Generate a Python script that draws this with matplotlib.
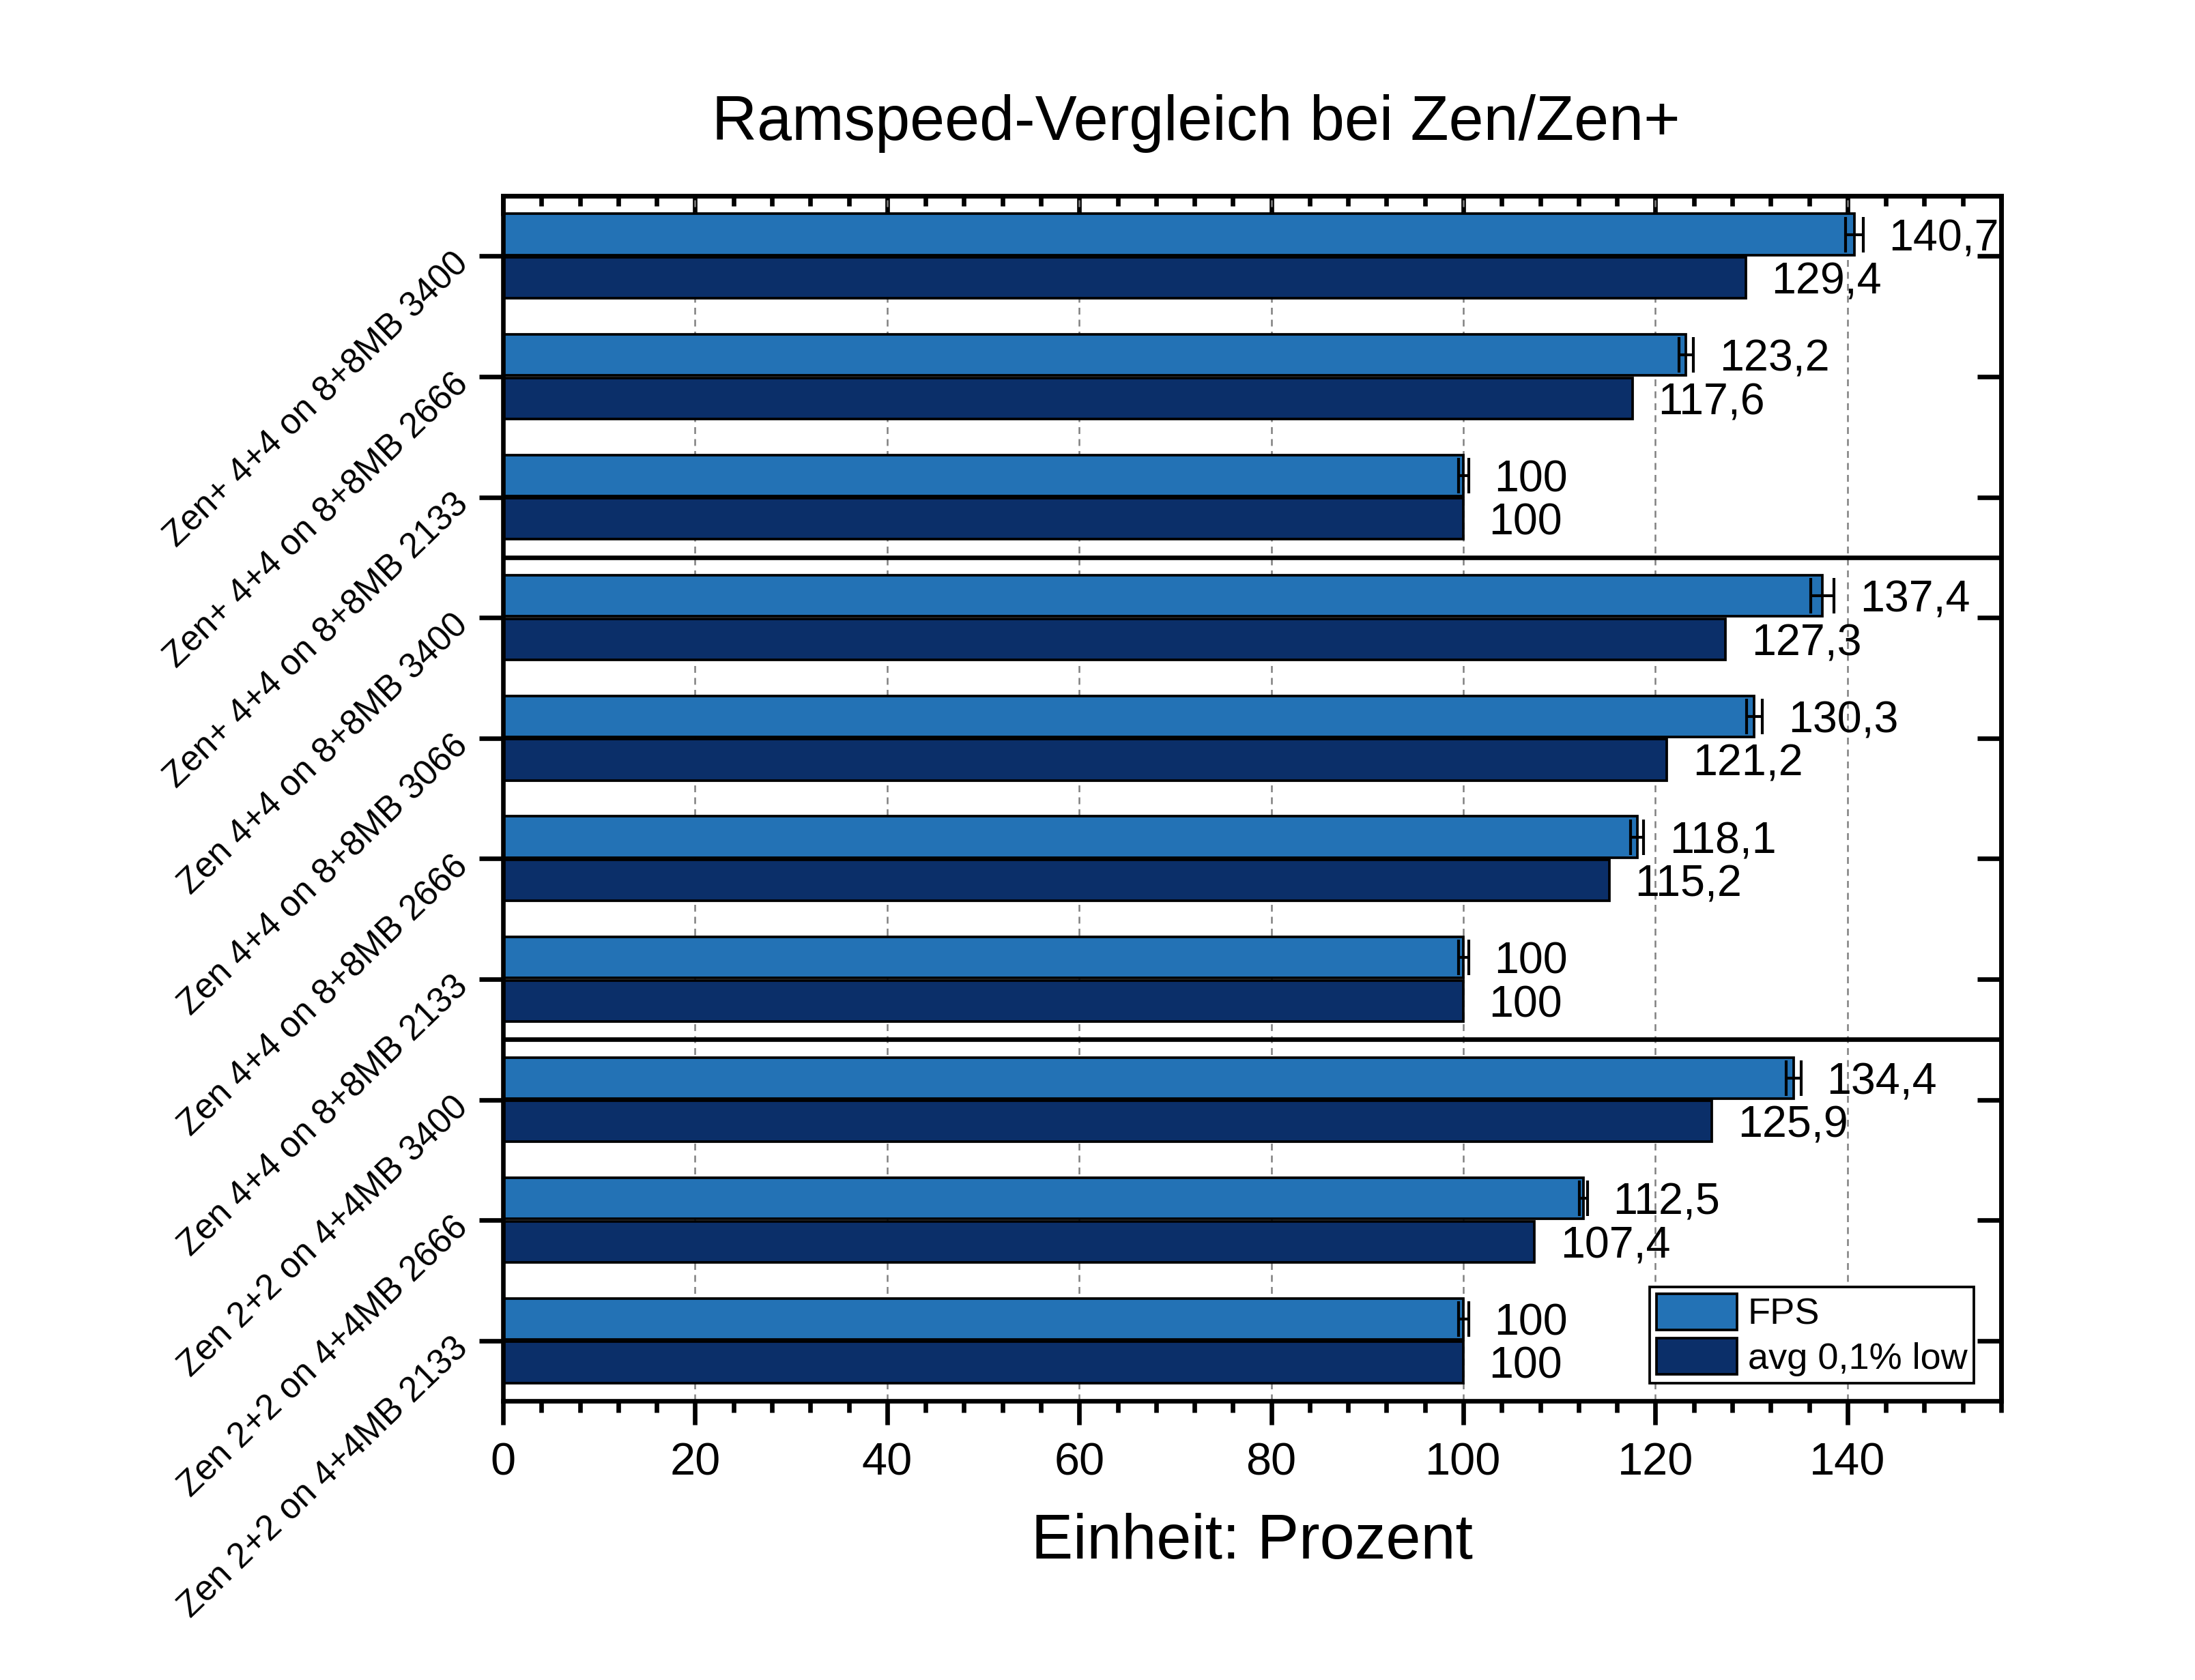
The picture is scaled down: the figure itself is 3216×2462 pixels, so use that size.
import numpy as np
import matplotlib
matplotlib.use("Agg")
from matplotlib import pyplot as plt
from matplotlib.ticker import MultipleLocator

plt.rcParams['font.family'] = ['Liberation Sans', 'DejaVu Sans']

categories = ["Zen+ 4+4 on 8+8MB 3400", "Zen+ 4+4 on 8+8MB 2666", "Zen+ 4+4 on 8+8MB 2133",
              "Zen 4+4 on 8+8MB 3400", "Zen 4+4 on 8+8MB 3066", "Zen 4+4 on 8+8MB 2666",
              "Zen 4+4 on 8+8MB 2133", "Zen 2+2 on 4+4MB 3400", "Zen 2+2 on 4+4MB 2666",
              "Zen 2+2 on 4+4MB 2133"]
fps = [140.7, 123.2, 100, 137.4, 130.3, 118.1, 100, 134.4, 112.5, 100]
fps_err = [0.92, 0.77, 0.53, 1.2, 0.84, 0.68, 0.53, 0.77, 0.44, 0.53]
low = [129.4, 117.6, 100, 127.3, 121.2, 115.2, 100, 125.9, 107.4, 100]
group_sizes = [3, 4, 3]
series_names = ["FPS", "avg 0,1% low"]

c_fps = "#2372B5"
c_low = "#0B2F69"
lw_axis = 1.6


def fmt(v):
    if float(v).is_integer():
        return str(int(v))
    return ("%.1f" % v).replace(".", ",")


fig = plt.figure(figsize=(3216 / 300, 2462 / 300), dpi=300)
ax = fig.add_axes([737 / 3216, 1 - 2053 / 2462, (2932 - 737) / 3216, (2053 - 287) / 2462])

y = np.arange(len(categories))
h = 0.34
off = 0.18

ax.set_axisbelow(True)
ax.grid(axis="x", which="major", color="#808080", linestyle=(0, (4, 3)), linewidth=0.6)

ax.barh(y - off, fps, height=h, color=c_fps, edgecolor="black", linewidth=0.9, label=series_names[0], zorder=2)
ax.barh(y + off, low, height=h, color=c_low, edgecolor="black", linewidth=0.9, label=series_names[1], zorder=2)
ax.errorbar(fps, y - off, xerr=fps_err, fmt="none", ecolor="black", elinewidth=1.0,
            capsize=6.2, capthick=1.0, zorder=3)

for i in range(len(categories)):
    ax.annotate(fmt(fps[i]), (fps[i] + fps_err[i], y[i] - off), xytext=(9, 0),
                textcoords="offset points", ha="left", va="center_baseline", fontsize=15.5)
    ax.annotate(fmt(low[i]), (low[i], y[i] + off), xytext=(9, 0),
                textcoords="offset points", ha="left", va="center_baseline", fontsize=15.5)

# group separators
for b in np.cumsum(group_sizes)[:-1]:
    ax.axhline(b - 0.5, color="black", linewidth=lw_axis, zorder=4)

ax.set_xlim(0, 156)
ax.set_ylim(len(categories) - 0.5, -0.5)
ax.xaxis.set_major_locator(MultipleLocator(20))
ax.xaxis.set_minor_locator(MultipleLocator(4))
ax.set_yticks(y)
ax.set_yticklabels(categories, rotation=44, ha="right", va="center_baseline", rotation_mode="anchor",
                   fontsize=12.3)

ax.tick_params(axis="x", which="major", direction="out", length=8.4, width=lw_axis, labelsize=16, pad=6)
ax.tick_params(axis="x", which="minor", direction="out", length=4, width=lw_axis)
ax.tick_params(axis="y", which="major", direction="out", length=8.4, width=lw_axis, pad=6.5)
for s in ax.spines.values():
    s.set_linewidth(lw_axis)

top = ax.secondary_xaxis("top")
top.xaxis.set_major_locator(MultipleLocator(20))
top.xaxis.set_minor_locator(MultipleLocator(4))
top.tick_params(axis="x", which="major", direction="in", length=7, width=lw_axis, labeltop=False)
top.tick_params(axis="x", which="minor", direction="in", length=3.5, width=lw_axis)
top.spines["top"].set_linewidth(lw_axis)

right = ax.secondary_yaxis("right")
right.set_yticks(y)
right.tick_params(axis="y", which="major", direction="in", length=8.4, width=lw_axis, labelright=False)
right.spines["right"].set_linewidth(lw_axis)

ax.set_xlabel("Einheit: Prozent", fontsize=22, labelpad=10)
fig.text(0.545, 1 - 181 / 2462, "Ramspeed-Vergleich bei Zen/Zen+", ha="center", va="center", fontsize=22)

leg = ax.legend(loc="lower right", bbox_to_anchor=(0.982, 0.015), borderaxespad=0, fontsize=13,
                fancybox=False, framealpha=1, edgecolor="black", borderpad=0.18, labelspacing=0.17,
                handlelength=2.17, handleheight=1.13, handletextpad=0.3)
leg.get_frame().set_linewidth(0.9)

fig.savefig("out.png", dpi=300)
